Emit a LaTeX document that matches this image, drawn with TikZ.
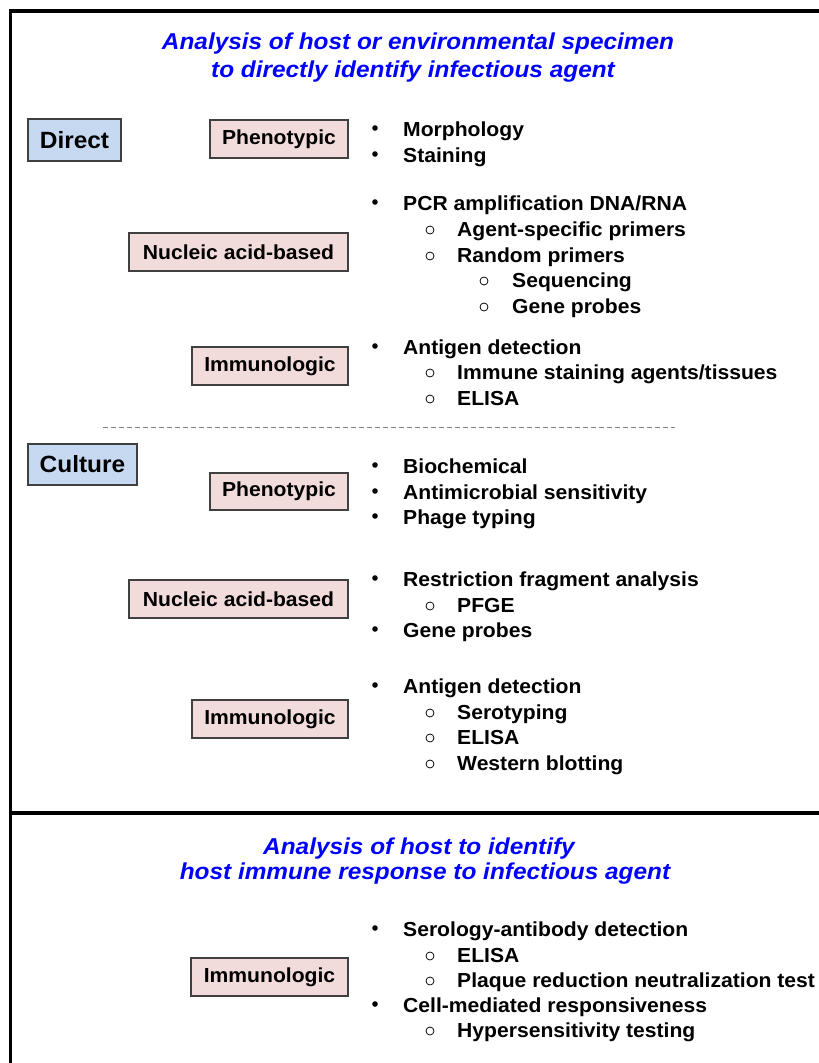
\documentclass[tikz,border=0pt]{standalone}
\usepackage{fontspec}
\setmainfont{Liberation Sans}
\newfontfamily\bodyfont[FakeStretch=1.04]{Liberation Sans}
\newfontfamily\headfont[FakeStretch=1.06]{Liberation Sans}
\definecolor{titleblue}{RGB}{0,0,255}
\definecolor{boxpink}{RGB}{242,220,219}
\definecolor{boxblue}{RGB}{198,217,241}
\definecolor{boxedge}{RGB}{64,64,64}
\tikzset{
  itm/.style={inner sep=0pt, font=\bodyfont\bfseries\fontsize{20.3}{24}\selectfont, text=black},
  ttl/.style={inner sep=0pt, font=\headfont\bfseries\itshape\fontsize{23}{28}\selectfont, text=titleblue, anchor=base},
  subbox/.style={draw=boxedge, line width=1.1pt, fill=boxpink, inner sep=0pt,
    font=\bodyfont\bfseries\fontsize{20.3}{24}\selectfont},
  mainbox/.style={draw=boxedge, line width=1.1pt, fill=boxblue, inner sep=0pt,
    font=\bodyfont\bfseries\fontsize{23.5}{28}\selectfont},
  frame/.style={line width=3.2pt, line cap=rect},
}
% list markers: filled dot for level 1, hollow ring for levels 2 and 3
\newcommand\lvlone[3]{%
  \fill (375,{#2-8}) circle (2.8pt);
  \node[itm, anchor=base west] (#1) at (403,#2) {#3};}
\newcommand\lvltwo[3]{%
  \draw[line width=0.75pt] (430,{#2-6}) circle (4pt);
  \node[itm, anchor=base west] (#1) at (457,#2) {#3};}
\newcommand\lvlthree[3]{%
  \draw[line width=0.75pt] (484,{#2-6}) circle (4pt);
  \node[itm, anchor=base west] (#1) at (512,#2) {#3};}
\begin{document}
\begin{tikzpicture}[x=1pt,y=-1pt]
\useasboundingbox (0,0) rectangle (819,1063);

% outer frame and section divider
\draw[frame] (819,11) -- (10.5,11) -- (10.5,1063);
\draw[frame] (10.5,813) -- (819,813);

% upper section heading
\node[ttl] (t1a) at (418,49) {Analysis of host or environmental specimen};
\node[ttl] (t1b) at (413,77) {to directly identify infectious agent};

% --- Direct ---
\node[mainbox, minimum width=93pt, minimum height=42pt] (direct) at (74.5,140) {Direct};

\node[subbox, minimum width=138pt, minimum height=38pt] (dphen) at (279,139) {Phenotypic};
\lvlone{d1}{136}{Morphology}
\lvlone{d2}{162}{Staining}

\node[subbox, minimum width=219pt, minimum height=38pt] (dnuc) at (238.5,252) {Nucleic acid-based};
\lvlone{d3}{210}{PCR amplification DNA/RNA}
\lvltwo{d4}{236}{Agent-specific primers}
\lvltwo{d5}{262}{Random primers}
\lvlthree{d6}{287}{Sequencing}
\lvlthree{d7}{313}{Gene probes}

\node[subbox, minimum width=156pt, minimum height=38pt] (dimm) at (270,366) {Immunologic};
\lvlone{d8}{354}{Antigen detection}
\lvltwo{d9}{379}{Immune staining agents/tissues}
\lvltwo{d10}{405}{ELISA}

% separator between direct and culture methods
\draw[gray, line width=0.8pt, dash pattern=on 5pt off 3pt] (103,427) -- (675,427);

% --- Culture ---
\node[mainbox, minimum width=109pt, minimum height=41pt] (culture) at (82.5,464.5) {Culture};

\node[subbox, minimum width=138pt, minimum height=37pt] (cphen) at (279,491.5) {Phenotypic};
\lvlone{c1}{473}{Biochemical}
\lvlone{c2}{499}{Antimicrobial sensitivity}
\lvlone{c3}{524}{Phage typing}

\node[subbox, minimum width=219pt, minimum height=38pt] (cnuc) at (238.5,599) {Nucleic acid-based};
\lvlone{c4}{586}{Restriction fragment analysis}
\lvltwo{c5}{612}{PFGE}
\lvlone{c6}{637}{Gene probes}

\node[subbox, minimum width=156pt, minimum height=38pt] (cimm) at (270,719) {Immunologic};
\lvlone{c7}{693}{Antigen detection}
\lvltwo{c8}{719}{Serotyping}
\lvltwo{c9}{744}{ELISA}
\lvltwo{c10}{770}{Western blotting}

% lower section heading
\node[ttl] (t2a) at (419,854) {Analysis of host to identify};
\node[ttl] (t2b) at (425,879) {host immune response to infectious agent};

\node[subbox, minimum width=157pt, minimum height=38pt] (himm) at (269.5,977) {Immunologic};
\lvlone{h1}{936}{Serology-antibody detection}
\lvltwo{h2}{962}{ELISA}
\lvltwo{h3}{987}{Plaque reduction neutralization test}
\lvlone{h4}{1012}{Cell-mediated responsiveness}
\lvltwo{h5}{1037}{Hypersensitivity testing}
\end{tikzpicture}
\end{document}
